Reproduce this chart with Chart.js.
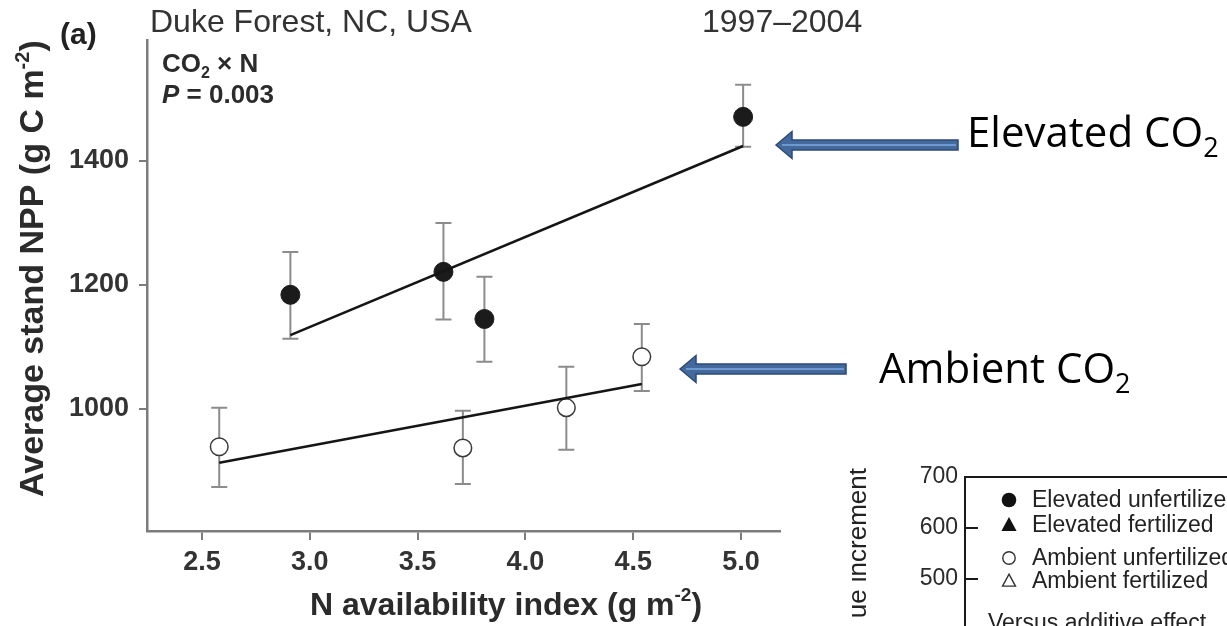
<!DOCTYPE html>
<html><head><meta charset="utf-8">
<script src="https://cdn.jsdelivr.net/npm/chart.js@4.4.1/dist/chart.umd.min.js"></script>
<style>
html,body{margin:0;padding:0;background:#fff;overflow:hidden;width:1227px;height:626px}
#wrap{position:relative;width:1227px;height:626px;overflow:hidden;background:#fff}
#c1{position:absolute;left:0;top:0}
#c2{position:absolute;left:850px;top:440px}
</style></head><body>
<div id="wrap"><canvas id="c1" width="1227" height="626"></canvas><canvas id="c2" width="700" height="400"></canvas></div>
<script>
// ---- data (panel a) ----
const xTicks = [2.5, 3.0, 3.5, 4.0, 4.5, 5.0];
const yTicks = [1000, 1200, 1400];
const nElevated   = [2.91, 3.62, 3.81, 5.01];
const nppElevated = [1184, 1221, 1145, 1471];
const hiElevated  = [1253, 1300, 1213, 1523];
const loElevated  = [1113, 1144, 1076, 1423];
const nAmbient    = [2.58, 3.71, 4.19, 4.54];
const nppAmbient  = [939, 937, 1002, 1084];
const hiAmbient   = [1002, 997, 1068, 1137];
const loAmbient   = [874, 879, 934, 1029];
const fitElevX = [2.91, 5.01];
const fitElevY = [1119, 1424];
const fitAmbX  = [2.58, 4.54];
const fitAmbY  = [913, 1040];
// ---- second (cropped) panel ----
const panel2Ticks = [700, 600, 500];
const panel2Labels = ['Elevated unfertilized', 'Elevated fertilized', 'Ambient unfertilized', 'Ambient fertilized'];
const panel2Styles = ['circle', 'triangle', 'circle', 'triangle'];
const panel2Filled = [true, true, false, false];

const FONT = '"Liberation Sans", Arial, Helvetica, sans-serif';
const SLIDE = '"Open Sans", "Noto Sans", sans-serif';

function pts(xs, ys) { return xs.map((x, i) => ({x: x, y: ys[i]})); }

function drawParts(ctx, x, y, parts, rot) {
  ctx.save(); ctx.translate(x, y); if (rot) ctx.rotate(rot);
  ctx.textAlign = 'left'; ctx.textBaseline = 'alphabetic';
  let cx = 0;
  for (const p of parts) {
    ctx.font = p.font; ctx.fillStyle = p.color || '#2b2b2b';
    ctx.fillText(p.t, cx, p.dy || 0);
    cx += ctx.measureText(p.t).width;
  }
  ctx.restore();
  return cx;
}

function drawArrow(ctx, tipX, tailX, cy) {
  const headLen = 16, headH = 13.5, shaftH = 5;
  ctx.save();
  ctx.beginPath();
  ctx.moveTo(tipX, cy);
  ctx.lineTo(tipX + headLen, cy - headH);
  ctx.lineTo(tipX + headLen, cy - shaftH);
  ctx.lineTo(tailX, cy - shaftH);
  ctx.lineTo(tailX, cy + shaftH);
  ctx.lineTo(tipX + headLen, cy + shaftH);
  ctx.lineTo(tipX + headLen, cy + headH);
  ctx.closePath();
  ctx.fillStyle = '#44699c'; ctx.fill();
  ctx.strokeStyle = '#2c4a77'; ctx.lineWidth = 1.5; ctx.stroke();
  ctx.beginPath(); ctx.moveTo(tipX + 6, cy); ctx.lineTo(tailX - 2, cy);
  ctx.strokeStyle = '#6f97d0'; ctx.lineWidth = 2; ctx.stroke();
  ctx.restore();
}

const errorBars = {
  id: 'errorBars',
  beforeDatasetsDraw(chart) {
    const ctx = chart.ctx, xs = chart.scales.x, ys = chart.scales.y;
    ctx.save();
    ctx.strokeStyle = '#8c8c8c'; ctx.lineWidth = 2;
    chart.data.datasets.forEach(ds => {
      if (!ds.errHi) return;
      ds.data.forEach((p, i) => {
        const px = xs.getPixelForValue(p.x);
        const yh = ys.getPixelForValue(ds.errHi[i]);
        const yl = ys.getPixelForValue(ds.errLo[i]);
        ctx.beginPath();
        ctx.moveTo(px, yh); ctx.lineTo(px, yl);
        ctx.moveTo(px - 8, yh); ctx.lineTo(px + 8, yh);
        ctx.moveTo(px - 8, yl); ctx.lineTo(px + 8, yl);
        ctx.stroke();
      });
    });
    ctx.restore();
  }
};

const annotations = {
  id: 'annotations',
  afterDraw(chart) {
    const ctx = chart.ctx;
    const B = 'bold ', dark = '#2b2b2b';
    drawParts(ctx, 60, 44, [{t: '(a)', font: B + '30px ' + FONT, color: '#222'}]);
    drawParts(ctx, 150, 32, [{t: 'Duke Forest, NC, USA', font: '32px ' + FONT, color: '#333'}]);
    drawParts(ctx, 702, 32, [{t: '1997\u20132004', font: '32px ' + FONT, color: '#333'}]);
    drawParts(ctx, 162, 72, [
      {t: 'CO', font: B + '26px ' + FONT, color: dark},
      {t: '2', font: B + '16px ' + FONT, color: dark, dy: 6},
      {t: ' \u00d7 N', font: B + '26px ' + FONT, color: dark}]);
    drawParts(ctx, 162, 103, [
      {t: 'P', font: 'italic bold 26px ' + FONT, color: dark},
      {t: ' = 0.003', font: B + '26px ' + FONT, color: dark}]);
    // axis titles
    drawParts(ctx, 43, 497, [
      {t: 'Average stand NPP (g C m', font: B + '34px ' + FONT, color: dark},
      {t: '-2', font: B + '20px ' + FONT, color: dark, dy: -14},
      {t: ')', font: B + '34px ' + FONT, color: dark}], -Math.PI / 2);
    drawParts(ctx, 310, 615, [
      {t: 'N availability index (g m', font: B + '32px ' + FONT, color: dark},
      {t: '-2', font: B + '19px ' + FONT, color: dark, dy: -14},
      {t: ')', font: B + '32px ' + FONT, color: dark}]);
    // slide annotations
    drawArrow(ctx, 776, 958, 145);
    drawParts(ctx, 967, 147, [
      {t: 'Elevated CO', font: '42px ' + SLIDE, color: '#000'},
      {t: '2', font: '27px ' + SLIDE, color: '#000', dy: 10}]);
    drawArrow(ctx, 680, 846, 369);
    drawParts(ctx, 879, 383, [
      {t: 'Ambient CO', font: '42px ' + SLIDE, color: '#000'},
      {t: '2', font: '27px ' + SLIDE, color: '#000', dy: 10}]);
  }
};

new Chart(document.getElementById('c1'), {
  data: {
    datasets: [
      {type: 'line', label: 'Elevated fit', data: pts(fitElevX, fitElevY), borderColor: '#151515', borderWidth: 2.6, pointRadius: 0, fill: false, order: 0},
      {type: 'line', label: 'Ambient fit', data: pts(fitAmbX, fitAmbY), borderColor: '#151515', borderWidth: 2.6, pointRadius: 0, fill: false, order: 0},
      {type: 'scatter', label: 'Elevated CO2', data: pts(nElevated, nppElevated), errHi: hiElevated, errLo: loElevated,
        pointRadius: 9.5, backgroundColor: '#1b1b1b', borderColor: '#1b1b1b', borderWidth: 1, order: 1},
      {type: 'scatter', label: 'Ambient CO2', data: pts(nAmbient, nppAmbient), errHi: hiAmbient, errLo: loAmbient,
        pointRadius: 8.8, backgroundColor: '#ffffff', borderColor: '#3a3a3a', borderWidth: 1.5, order: 1}
    ]
  },
  options: {
    responsive: false, animation: false, events: [],
    layout: {padding: {left: 0, top: 40, right: 447, bottom: 0}},
    plugins: {legend: {display: false}, tooltip: {enabled: false}},
    scales: {
      x: {
        type: 'linear', min: 2.245, max: 5.181,
        afterBuildTicks: s => { s.ticks = xTicks.map(v => ({value: v})); },
        afterFit: s => { s.height = 95; },
        ticks: {font: {family: FONT, size: 27, weight: 'bold'}, color: '#333', padding: 6, callback: v => Number(v).toFixed(1)},
        grid: {drawOnChartArea: false, tickLength: 9, color: '#7c7c7c', lineWidth: 2},
        border: {color: '#7c7c7c', width: 2.5}
      },
      y: {
        type: 'linear', min: 803, max: 1595,
        afterBuildTicks: s => { s.ticks = yTicks.map(v => ({value: v})); },
        afterFit: s => { s.width = 147; },
        ticks: {font: {family: FONT, size: 27, weight: 'bold'}, color: '#333', padding: 10, callback: v => String(v)},
        grid: {drawOnChartArea: false, tickLength: 8, color: '#7c7c7c', lineWidth: 2},
        border: {color: '#7c7c7c', width: 2.5}
      }
    }
  },
  plugins: [errorBars, annotations]
});

// ---- cropped second panel ----
const panel2Deco = {
  id: 'panel2Deco',
  afterDraw(chart) {
    const ctx = chart.ctx, ys = chart.scales.y, left = chart.chartArea.left;
    ctx.save();
    ctx.strokeStyle = '#1a1a1a'; ctx.lineWidth = 2;
    ys.ticks.forEach(t => {
      if (t.value >= ys.max) return;
      const py = Math.round(ys.getPixelForValue(t.value));
      ctx.beginPath(); ctx.moveTo(left, py); ctx.lineTo(left + 13, py); ctx.stroke();
    });
    // legend
    const baselines = [67, 92, 125, 148];
    ctx.font = '23px ' + FONT; ctx.textBaseline = 'alphabetic'; ctx.textAlign = 'left';
    chart.data.datasets.forEach((ds, i) => {
      const mx = 159, my = baselines[i] - 7;
      ctx.beginPath();
      if (ds.pointStyle === 'circle') {
        ctx.arc(mx, my, ds.filledMark ? 7.3 : 6.2, 0, Math.PI * 2);
      } else {
        const r = ds.filledMark ? 8 : 6.8;
        ctx.moveTo(mx, my - r); ctx.lineTo(mx + r * 0.95, my + r * 0.75); ctx.lineTo(mx - r * 0.95, my + r * 0.75); ctx.closePath();
      }
      if (ds.filledMark) { ctx.fillStyle = '#111'; ctx.fill(); }
      else { ctx.fillStyle = '#fff'; ctx.fill(); ctx.strokeStyle = '#333'; ctx.lineWidth = 1.4; ctx.stroke(); }
      ctx.fillStyle = '#222';
      ctx.fillText(ds.label, 182, baselines[i]);
    });
    ctx.fillText('Versus additive effect', 138, 190);
    // cropped axis title
    ctx.save();
    ctx.translate(16, 28); ctx.rotate(-Math.PI / 2);
    ctx.textAlign = 'right'; ctx.font = '26px ' + FONT; ctx.fillStyle = '#222';
    ctx.fillText('ue increment', 0, 0);
    ctx.restore();
    ctx.restore();
  }
};

new Chart(document.getElementById('c2'), {
  type: 'scatter',
  data: {datasets: panel2Labels.map((l, i) => ({label: l, data: [], pointStyle: panel2Styles[i], filledMark: panel2Filled[i]}))},
  options: {
    responsive: false, animation: false, events: [],
    layout: {padding: {left: 0, top: 37, right: 0, bottom: 0}},
    plugins: {legend: {display: false}, tooltip: {enabled: false}},
    scales: {
      x: {type: 'linear', position: 'top', min: 0, max: 10,
        ticks: {display: false}, grid: {display: false, drawTicks: false},
        border: {color: '#1a1a1a', width: 2}, afterFit: s => { s.height = 0; }},
      y: {type: 'linear', min: 28, max: 700,
        afterBuildTicks: s => { s.ticks = panel2Ticks.map(v => ({value: v})); },
        afterFit: s => { s.width = 115; },
        ticks: {font: {family: FONT, size: 23}, color: '#2a2a2a', padding: 7},
        grid: {display: false, drawTicks: false},
        border: {color: '#1a1a1a', width: 2}}
    }
  },
  plugins: [panel2Deco]
});
</script>
</body></html>
